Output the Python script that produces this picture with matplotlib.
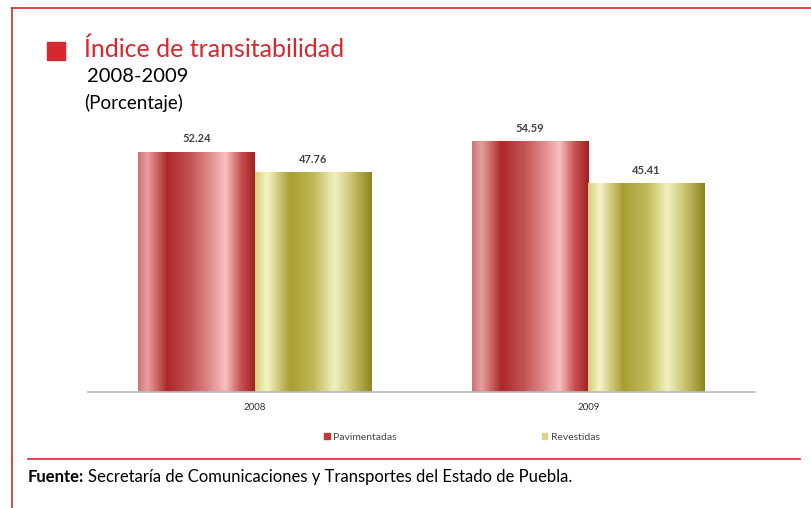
"""
Indice de transitabilidad 2008-2009 bar chart
"""

import matplotlib.pyplot as plt
import numpy as np
from matplotlib.colors import LinearSegmentedColormap
from matplotlib.patches import Rectangle
from matplotlib.lines import Line2D

years = ["2008", "2009"]
series = ["Pavimentadas", "Revestidas"]
pavimentadas = [52.24, 54.59]
revestidas = [47.76, 45.41]

plt.rcParams["font.family"] = ["Lato", "DejaVu Sans"]

RED = "#d7282f"

# shading of the "cylinder" bars, left to right
red_stops = [(0.0, "#d07272"), (0.08, "#e8a0a0"), (0.25, "#ae2828"),
             (0.45, "#c45454"), (0.62, "#e08e8e"), (0.75, "#f8c0c0"),
             (0.88, "#c85050"), (1.0, "#a22020")]
olive_stops = [(0.0, "#d4d07c"), (0.1, "#f6f4c6"), (0.3, "#a89e32"),
               (0.5, "#c0b958"), (0.68, "#f2f0c2"), (0.82, "#cdc775"),
               (1.0, "#8c8420")]

fig = plt.figure(figsize=(8.12, 5.08), dpi=100)
ax = fig.add_axes([88 / 812, 1 - 392 / 508, (755 - 88) / 812, (392 - 116) / 508])

x = np.arange(len(years))
width = 0.35
grad = np.linspace(0, 1, 256).reshape(1, -1)


def shaded_bars(xpos, values, stops):
    cmap = LinearSegmentedColormap.from_list("shade", stops)
    bars = ax.bar(xpos, values, width, color="none", edgecolor="none")
    for b in bars:
        x0, y0 = b.get_x(), b.get_y()
        w, h = b.get_width(), b.get_height()
        im = ax.imshow(grad, cmap=cmap, aspect="auto",
                       extent=[x0, x0 + w, y0, y0 + h], zorder=2)
        im.set_clip_path(b)
    return bars


b1 = shaded_bars(x - width / 2, pavimentadas, red_stops)
b2 = shaded_bars(x + width / 2, revestidas, olive_stops)

for bars, vals in [(b1, pavimentadas), (b2, revestidas)]:
    for b, v in zip(bars, vals):
        ax.text(b.get_x() + b.get_width() / 2, v + 1.6, f"{v:.2f}",
                ha="center", va="bottom", fontsize=8, color="#444444",
                fontweight="bold")

ax.set_xlim(-0.5, 1.5)
ax.set_ylim(0, 60)
ax.set_xticks(x)
ax.set_xticklabels(years, fontsize=7, color="#333333")
ax.tick_params(axis="x", length=0, pad=8)
ax.set_yticks([])
for side in ["top", "left", "right"]:
    ax.spines[side].set_visible(False)
ax.spines["bottom"].set_color("#bbbbbb")
ax.spines["bottom"].set_linewidth(1.2)

handles = [Rectangle((0, 0), 1, 1, color="#c0393b"),
           Rectangle((0, 0), 1, 1, color="#d8d48a")]
fig.legend(handles, series, loc="center", bbox_to_anchor=(462 / 812, 1 - 437 / 508),
           ncol=2, frameon=False, fontsize=7.5, handlelength=0.5, handleheight=0.5,
           handletextpad=0.3, columnspacing=14, labelcolor="#444444")

# title block
fig.patches.append(Rectangle((47 / 812, 1 - 60 / 508), 18 / 812, 18 / 508,
                             transform=fig.transFigure, color=RED))
fig.text(84 / 812, 1 - 49 / 508, "Índice de transitabilidad", fontsize=18,
         color=RED, va="center", ha="left")
fig.text(87 / 812, 1 - 77 / 508, "2008-2009", fontsize=14.5, va="center", ha="left")
fig.text(84 / 812, 1 - 103 / 508, "(Porcentaje)", fontsize=13.5, va="center", ha="left")

# frame and footer
fig.add_artist(Line2D([12 / 812, 1], [1 - 8 / 508] * 2, color=RED, lw=1.2))
fig.add_artist(Line2D([12 / 812] * 2, [0, 1 - 8 / 508], color=RED, lw=1.2))
fig.add_artist(Line2D([28 / 812, 800 / 812], [1 - 459 / 508] * 2, color=RED, lw=1.2))
src = fig.text(28 / 812, 1 - 477 / 508, "Fuente:", fontsize=12, fontweight="bold",
               va="center", ha="left")
fig.canvas.draw()
end = src.get_window_extent().x1
fig.text((end + 4) / 812, 1 - 477 / 508,
         "Secretaría de Comunicaciones y Transportes del Estado de Puebla.",
         fontsize=12, va="center", ha="left")

plt.savefig("out.png", dpi=100)
